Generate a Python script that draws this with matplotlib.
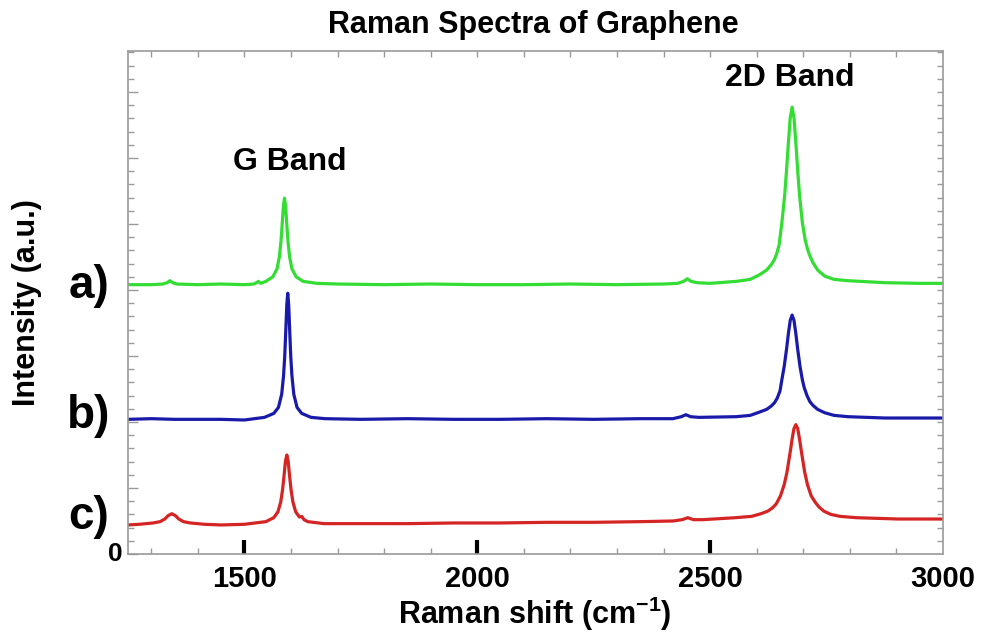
import matplotlib
matplotlib.use("Agg")
import matplotlib.pyplot as plt
import numpy as np

plt.rcParams['font.family'] = ['Liberation Sans', 'DejaVu Sans']
plt.rcParams['mathtext.fontset'] = 'custom'
plt.rcParams['mathtext.rm'] = 'Liberation Sans:bold'
plt.rcParams['mathtext.bf'] = 'Liberation Sans:bold'

# ---- data (Raman shift in cm^-1, intensity in a.u. with vertical offsets) ----
shift_a = [1250, 1300, 1325, 1334, 1340, 1346, 1355, 1400, 1450, 1500, 1520, 1526, 1530, 1535,
           1546, 1561, 1570, 1575, 1578.5, 1581, 1583.5, 1586, 1588.5, 1591, 1593.5, 1597, 1602,
           1611, 1626, 1656, 1700, 1800, 1900, 2000, 2100, 2200, 2300, 2400, 2430, 2443, 2451,
           2459, 2472, 2500, 2556, 2586, 2606, 2621, 2631, 2638, 2643, 2648, 2654, 2660, 2664,
           2668, 2672, 2676, 2680, 2684, 2688, 2692, 2698, 2704, 2709, 2714, 2721, 2731, 2746,
           2766, 2796, 2876, 2950, 3000]
intensity_a = [4.08, 4.08, 4.09, 4.11, 4.14, 4.11, 4.09, 4.08, 4.09, 4.08, 4.09, 4.11, 4.13, 4.10,
               4.13, 4.20, 4.32, 4.50, 4.74, 4.99, 5.26, 5.39, 5.26, 4.99, 4.74, 4.50, 4.32,
               4.20, 4.13, 4.10, 4.09, 4.08, 4.09, 4.08, 4.08, 4.09, 4.08, 4.09, 4.10, 4.13, 4.17,
               4.13, 4.11, 4.10, 4.13, 4.16, 4.23, 4.30, 4.38, 4.46, 4.55, 4.68, 5.02, 5.43, 5.81,
               6.23, 6.61, 6.77, 6.61, 6.23, 5.81, 5.43, 5.02, 4.76, 4.62, 4.52, 4.41, 4.30, 4.21,
               4.16, 4.14, 4.11, 4.10, 4.10]

shift_b = [1250, 1300, 1350, 1400, 1450, 1500, 1543, 1563, 1573, 1580, 1584, 1586.5, 1589, 1591,
           1593, 1595, 1597, 1599.5, 1602, 1606, 1613, 1623, 1643, 1673, 1750, 1850, 1950, 2050,
           2150, 2250, 2350, 2420, 2438, 2448, 2458, 2476, 2556, 2586, 2606, 2621, 2631, 2638,
           2644, 2650, 2654, 2659, 2664, 2668, 2672, 2676, 2680, 2684, 2688, 2693, 2698, 2702,
           2708, 2714, 2721, 2731, 2746, 2766, 2796, 2876, 2950, 3000]
intensity_b = [2.04, 2.05, 2.04, 2.04, 2.04, 2.03, 2.07, 2.13, 2.22, 2.42, 2.70, 2.99, 3.42, 3.78,
               3.95, 3.78, 3.42, 2.99, 2.70, 2.42, 2.22, 2.13, 2.07, 2.05, 2.04, 2.05, 2.04, 2.04,
               2.05, 2.04, 2.05, 2.05, 2.08, 2.11, 2.08, 2.07, 2.08, 2.10, 2.15, 2.19, 2.24, 2.29,
               2.36, 2.47, 2.64, 2.84, 3.10, 3.34, 3.54, 3.62, 3.54, 3.34, 3.10, 2.84, 2.64, 2.52,
               2.40, 2.31, 2.25, 2.19, 2.14, 2.10, 2.08, 2.06, 2.06, 2.06]

shift_c = [1250, 1274, 1304, 1319, 1329, 1336, 1344, 1352, 1359, 1369, 1384, 1414, 1450, 1500,
           1546, 1563, 1572, 1578, 1582, 1585, 1588, 1591, 1594, 1597, 1600, 1604, 1610, 1618,
           1623, 1628, 1636, 1671, 1750, 1850, 1950, 2050, 2150, 2250, 2350, 2420, 2440, 2452,
           2464, 2484, 2554, 2589, 2609, 2624, 2634, 2642, 2651, 2659, 2665, 2672, 2676, 2680,
           2684, 2688, 2692, 2696, 2703, 2709, 2717, 2726, 2734, 2744, 2759, 2779, 2814, 2904,
           3000]
intensity_c = [0.44, 0.45, 0.47, 0.49, 0.53, 0.58, 0.61, 0.58, 0.53, 0.49, 0.47, 0.45, 0.44, 0.45,
               0.49, 0.55, 0.64, 0.79, 0.98, 1.18, 1.40, 1.50, 1.40, 1.18, 0.98, 0.79, 0.64, 0.56,
               0.57, 0.52, 0.49, 0.46, 0.46, 0.46, 0.47, 0.47, 0.48, 0.48, 0.49, 0.50, 0.52, 0.55,
               0.52, 0.52, 0.55, 0.57, 0.61, 0.65, 0.70, 0.76, 0.88, 1.05, 1.24, 1.55, 1.74, 1.90,
               1.96, 1.90, 1.74, 1.55, 1.24, 1.05, 0.88, 0.78, 0.71, 0.65, 0.60, 0.57, 0.55, 0.53,
               0.53]

x_major = [1500, 2000, 2500, 3000]
x_labels = ['1500', '2000', '2500', '3000']
series_labels = ['a)', 'b)', 'c)']
band_labels = ['G Band', '2D Band']

colors = ['#33dd33', '#1a1aaa', '#d42424']
grey = '#9a9a9a'

fig = plt.figure(figsize=(9.82, 6.35), dpi=100)
ax = fig.add_axes([128/982, 1 - 554/635, (943-128)/982, (554-51)/635])

for xs, ys, c in zip([shift_a, shift_b, shift_c], [intensity_a, intensity_b, intensity_c], colors):
    ax.plot(xs, ys, color=c, lw=2.3, solid_joinstyle='round')

ax.set_xlim(1250, 3000)
ax.set_ylim(0, 7.62)

for s in ax.spines.values():
    s.set_color(grey)
    s.set_linewidth(1.2)

# bottom axis
ax.set_xticks(x_major)
ax.set_xticklabels(x_labels, fontsize=21, fontweight='bold')
ax.set_xticks(np.arange(1300, 3000, 100), minor=True)
ax.tick_params(axis='x', which='major', direction='in', length=10, width=3, color='black', pad=8)
ax.tick_params(axis='x', which='minor', direction='in', length=4, width=1, color=grey)
ax.xaxis.get_major_ticks()[-1].tick1line.set_visible(False)

# left axis
ax.set_yticks(np.arange(0, 8, 1))
ax.set_yticklabels(['0'] + [''] * 7, fontsize=19, fontweight='bold')
ax.set_yticks(np.arange(0, 7.62, 0.2), minor=True)
ax.tick_params(axis='y', which='major', direction='in', length=7, width=1, color=grey, pad=4)
ax.tick_params(axis='y', which='minor', direction='in', length=4, width=1, color=grey)
for lab in ax.get_yticklabels():
    lab.set_verticalalignment('center')

# top and right ticks
top = ax.secondary_xaxis('top')
top.set_xticks(np.arange(1300, 3000, 100))
top.set_xticklabels([])
top.tick_params(direction='in', length=4, width=1, color=grey)
top.spines['top'].set_visible(False)
right = ax.secondary_yaxis('right')
right.set_yticks(np.arange(0.2, 7.62, 0.2))
right.set_yticklabels([])
right.tick_params(direction='in', length=4, width=1, color=grey)
right.spines['right'].set_visible(False)

fig.text(533/982, 1 - 25/635, 'Raman Spectra of Graphene', ha='center', va='center',
         fontsize=22, fontweight='bold')
fig.text(535/982, 1 - 614/635, r'Raman shift (cm$^{\mathbf{-1}}$)', ha='center', va='center',
         fontsize=22, fontweight='bold')
fig.text(27/982, 1 - 303/635, 'Intensity (a.u.)', ha='center', va='center', rotation=90,
         fontsize=22, fontweight='bold')

for lab, yp in zip(series_labels, [286, 416, 517]):
    fig.text(89/982, 1 - yp/635, lab, ha='center', va='center', fontsize=33, fontweight='bold')

ax.text(1597, 5.94, band_labels[0], ha='center', va='center', fontsize=23, fontweight='bold')
ax.text(2670, 7.21, band_labels[1], ha='center', va='center', fontsize=23, fontweight='bold')

fig.savefig('out.png', dpi=100)
